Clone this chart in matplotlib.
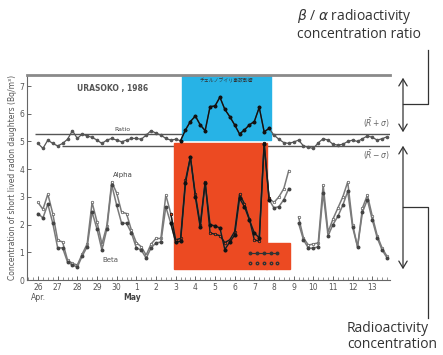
import numpy as np
import matplotlib
matplotlib.use("Agg")
import matplotlib.pyplot as plt
from matplotlib.patches import Rectangle
from matplotlib.lines import Line2D

# samples every 6 hours from 26 Apr 1986 (Urasoko)
ratio = [4.93, 4.75, 5.05, 4.93, 4.84, 4.93, 5.08, 5.39, 5.11, 5.27,
         5.20, 5.15, 5.05, 4.93, 5.05, 5.11, 5.05, 4.99, 5.05, 5.11,
         5.11, 5.08, 5.23, 5.39, 5.30, 5.23, 5.11, 5.05, 5.08, 5.03,
         5.42, 5.72, 5.92, 5.60, 5.39, 6.26, 6.28, 6.60, 6.16, 5.90,
         5.60, 5.27, 5.42, 5.60, 5.72, 6.23, 5.35, 5.47, 5.23, 5.08,
         4.96, 4.93, 4.98, 5.05, 4.84, 4.79, 4.75, 4.95, 5.10, 5.05,
         4.90, 4.87, 4.90, 5.00, 5.05, 5.00, 5.10, 5.20, 5.15, 5.05,
         5.10, 5.17]
alpha = [2.80, 2.55, 3.10, 2.40, 1.44, 1.37, 0.72, 0.60, 0.54, 0.94,
         1.30, 2.80, 2.10, 1.30, 1.95, 3.54, 3.14, 2.45, 2.40, 1.80,
         1.35, 1.20, 0.90, 1.30, 1.50, 1.50, 3.07, 2.40, 1.45, 1.50,
         3.60, 4.44, 3.10, 2.00, 3.55, 1.70, 1.65, 1.60, 1.35, 1.45,
         1.75, 3.10, 2.75, 2.20, 1.45, 1.40, 4.95, 2.95, 2.80, 3.00,
         3.30, 3.95, np.nan, 2.27, 1.52, 1.26, 1.30, 1.34, 3.43, 1.73,
         2.20, 2.60, 3.00, 3.54, 2.00, 1.20, 2.60, 3.07, 2.30, 1.60,
         1.15, 0.85]
beta = [2.40, 2.24, 2.74, 2.05, 1.16, 1.16, 0.65, 0.54, 0.47, 0.87,
        1.20, 2.45, 1.84, 1.08, 1.84, 3.43, 2.70, 2.05, 2.05, 1.70,
        1.16, 1.08, 0.79, 1.16, 1.34, 1.37, 2.64, 2.05, 1.37, 1.40,
        3.50, 4.44, 3.00, 1.90, 3.50, 2.00, 1.95, 1.88, 1.10, 1.37,
        1.62, 2.95, 2.64, 2.17, 1.70, 1.52, 4.90, 2.90, 2.60, 2.65,
        2.90, 3.30, np.nan, 2.05, 1.45, 1.15, 1.15, 1.20, 3.14, 1.60,
        2.00, 2.30, 2.70, 3.20, 1.90, 1.20, 2.45, 2.90, 2.17, 1.52,
        1.08, 0.80]
ratio_hi = 5.27   # R + sigma
ratio_lo = 4.85   # R - sigma
day_labels = ['26', '27', '28', '29', '30', '1', '2', '3', '4', '5',
              '6', '7', '8', '9', '10', '11', '12', '13']

t = np.arange(len(ratio)) * 0.25
ratio = np.array(ratio)
alpha = np.array(alpha)
beta = np.array(beta)

W, H = 443, 355
fig = plt.figure(figsize=(W / 100, H / 100), dpi=100)
ax = fig.add_axes([27 / W, 1 - 280 / H, 363 / W, 205 / H])
ax.set_xlim(-0.56, 17.9)
ax.set_ylim(0, 7.4)

gray = '#7a7a7a'

# coloured highlight boxes (Chernobyl period)
ax.add_patch(Rectangle((7.33, 5.05), 4.53, 2.35, color='#27b3e6', zorder=2))
ax.add_patch(Rectangle((6.92, 0.40), 4.73, 4.55, color='#ec4a22', zorder=2))
ax.add_patch(Rectangle((11.6, 0.40), 1.22, 0.94, color='#ec4a22', zorder=2))

# mean +/- sigma lines of the ratio
ax.hlines(ratio_hi, -0.15, 17.9, color='#555555', lw=1.0, zorder=1)
ax.hlines(ratio_lo, 1.2, 17.9, color='#555555', lw=1.0, zorder=1)

# full series in gray
ax.plot(t, ratio, color='#555555', lw=0.9, marker='o', ms=1.6, zorder=3)
ax.plot(t, alpha, color=gray, lw=1.1, marker='o', ms=1.8, mfc='white', mec='#555555', mew=0.5, zorder=3)
ax.plot(t, beta, color=gray, lw=1.1, marker='o', ms=1.8, mfc='#444444', mec='#444444', zorder=3)

# black over the highlighted boxes
in_red = (t >= 6.75) & (t <= 11.75)
in_blue = (t >= 7.25) & (t <= 11.75)
ax.plot(t[in_blue], ratio[in_blue], color='#111111', lw=1.0, marker='o', ms=1.8, zorder=4)
ax.plot(t[in_red], alpha[in_red], color='#1a1a1a', lw=1.0, marker='o', ms=1.8, mfc='#ec4a22', mec='#111111', mew=0.5, zorder=4)
ax.plot(t[in_red], beta[in_red], color='#1a1a1a', lw=1.0, marker='o', ms=1.8, mfc='#111111', mec='#111111', zorder=4)

leg = ax.legend(handles=[Line2D([], [], color='#333333', lw=0.8, marker='o', ms=1.8),
                         Line2D([], [], color='#333333', lw=0, marker='o', ms=1.8, mfc='none')],
                labels=['', ''], loc='upper left', bbox_to_anchor=(0.6, 0.16),
                frameon=False, numpoints=5, handlelength=4.5, fontsize=5,
                labelspacing=0.5, borderpad=0)
leg.set_zorder(5)

# texts inside the chart
ax.text(3.8, 6.9, 'URASOKO , 1986', fontsize=5.5, color='#555555', ha='center', va='center', weight='bold')
ax.text(4.3, 5.42, 'Ratio', fontsize=4.5, color='#444444', ha='center', va='center')
ax.text(4.3, 3.8, 'Alpha', fontsize=5, color='#444444', ha='center', va='center')
ax.text(3.7, 0.72, 'Beta', fontsize=5, color='#555555', ha='center', va='center')
ax.text(17.2, 5.67, r'$(\bar{R}+\sigma)$', fontsize=5.5, color='#666666', ha='center', va='center')
ax.text(17.2, 4.51, r'$(\bar{R}-\sigma)$', fontsize=5.5, color='#666666', ha='center', va='center')
ax.text(9.6, 7.2, 'チェルノブイリ事故影響', fontsize=3.5, color='#333333', ha='center', va='center',
        family=['Noto Sans CJK JP', 'DejaVu Sans'], zorder=5)

# axes styling
ax.spines['right'].set_visible(False)
ax.spines['top'].set_color('#8a8a8a')
ax.spines['top'].set_linewidth(2)
ax.spines['left'].set_color('#666666')
ax.spines['bottom'].set_color('#666666')
ax.set_yticks(range(8))
ax.set_yticklabels([str(v) for v in range(8)], fontsize=5.5, color='#555555')
ax.set_xticks(range(len(day_labels)))
ax.set_xticklabels(day_labels, fontsize=5.5, color='#555555')
ax.set_xticks(np.arange(-0.5, 17.76, 0.25), minor=True)
ax.tick_params(axis='both', direction='in', length=3, width=0.7, color='#666666', pad=2)
ax.tick_params(axis='x', which='minor', direction='in', length=2, width=0.5, color='#666666')
ax.text(0, -0.62, 'Apr.', fontsize=5.5, color='#555555', ha='center', va='center')
ax.text(4.8, -0.62, 'May', fontsize=5.5, color='#444444', ha='center', va='center', weight='bold')
ax.set_ylabel('Concentration of short lived radon daughters (Bq/m³)', fontsize=5.5, color='#555555', labelpad=2)

# annotations on the right
def fp(x, y):
    return (x, H - y)

ac = '#333333'
for y0, y1 in [(75, 135), (143, 272)]:
    ax.annotate('', xy=fp(403, y0), xytext=fp(403, y1), xycoords='figure pixels',
                textcoords='figure pixels',
                arrowprops=dict(arrowstyle='<->,head_length=0.5,head_width=0.3', color=ac, lw=0.9))
fig.add_artist(Line2D([403 / W, 428 / W, 428 / W], [1 - 104 / H, 1 - 104 / H, 1 - 50 / H], color=ac, lw=0.9))
fig.add_artist(Line2D([403 / W, 428 / W, 428 / W], [1 - 207 / H, 1 - 207 / H, 1 - 318 / H], color=ac, lw=0.9))

fig.text(297 / W, 1 - 7 / H, r'$\it{\beta}$ / $\it{\alpha}$ radioactivity' + '\nconcentration ratio',
         fontsize=10, color=ac, ha='left', va='top', linespacing=1.1, family='Open Sans')
fig.text(347 / W, 1 - 321 / H, 'Radioactivity\nconcentration', fontsize=10, color=ac,
         ha='left', va='top', linespacing=1.1, family='Open Sans')

fig.savefig('out.png', dpi=100)
